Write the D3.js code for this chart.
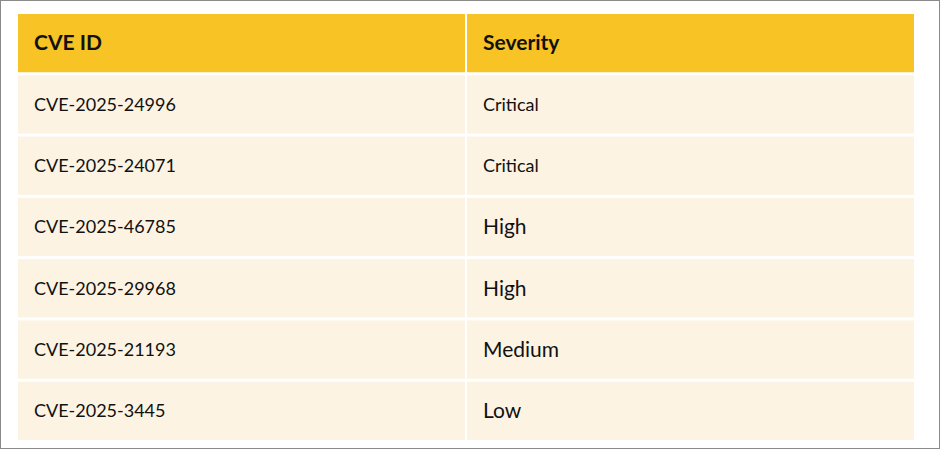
<!DOCTYPE html>
<html><head><meta charset="utf-8">
<script src="https://cdn.jsdelivr.net/npm/d3@7"></script>
<style>body{margin:0;background:#fff}</style>
</head><body>
<script>
var headers = ["CVE ID", "Severity"];
var cveIds = ["CVE-2025-24996","CVE-2025-24071","CVE-2025-46785","CVE-2025-29968","CVE-2025-21193","CVE-2025-3445"];
var severities = ["Critical","Critical","High","High","Medium","Low"];

var W = 940, H = 449;
var svg = d3.select("body").append("svg").attr("width", W).attr("height", H);
svg.append("rect").attr("x",0.5).attr("y",0.5).attr("width",W-1).attr("height",H-1)
  .attr("fill","#fff").attr("stroke","#8a8a8a");

var x = d3.scaleOrdinal().domain([0,1]).range([18, 467]);
var colW = [447, 447];
var y = d3.scaleBand().domain(d3.range(cveIds.length + 1)).range([14, 440]).paddingInner(0.05);

// header
headers.forEach((h, i) => {
  svg.append("rect").attr("x", x(i)).attr("y", y(0)).attr("width", colW[i]).attr("height", y.bandwidth())
    .attr("fill", "#F7C325");
  svg.append("text").attr("x", x(i) + 16).attr("y", y(0) + y.bandwidth()/2).attr("dy","0.35em")
    .style("font-family","Lato, 'Noto Sans', sans-serif").style("font-weight","bold").style("font-size","21px")
    .attr("fill","#111").text(h);
});

cveIds.forEach((id, r) => {
  var row = [id, severities[r]];
  row.forEach((v, i) => {
    var yy = y(r+1);
    svg.append("rect").attr("x", x(i)).attr("y", yy).attr("width", colW[i]).attr("height", y.bandwidth())
      .attr("fill", "#FDF3E3");
    var big = i === 1 && v !== "Critical";
    svg.append("text").attr("x", x(i) + 16).attr("y", yy + y.bandwidth()/2).attr("dy","0.35em")
      .style("font-family","Lato, 'Noto Sans', sans-serif").style("font-size", big ? "21px" : "18px")
      .attr("fill","#111").text(v);
  });
});
</script>
</body></html>
